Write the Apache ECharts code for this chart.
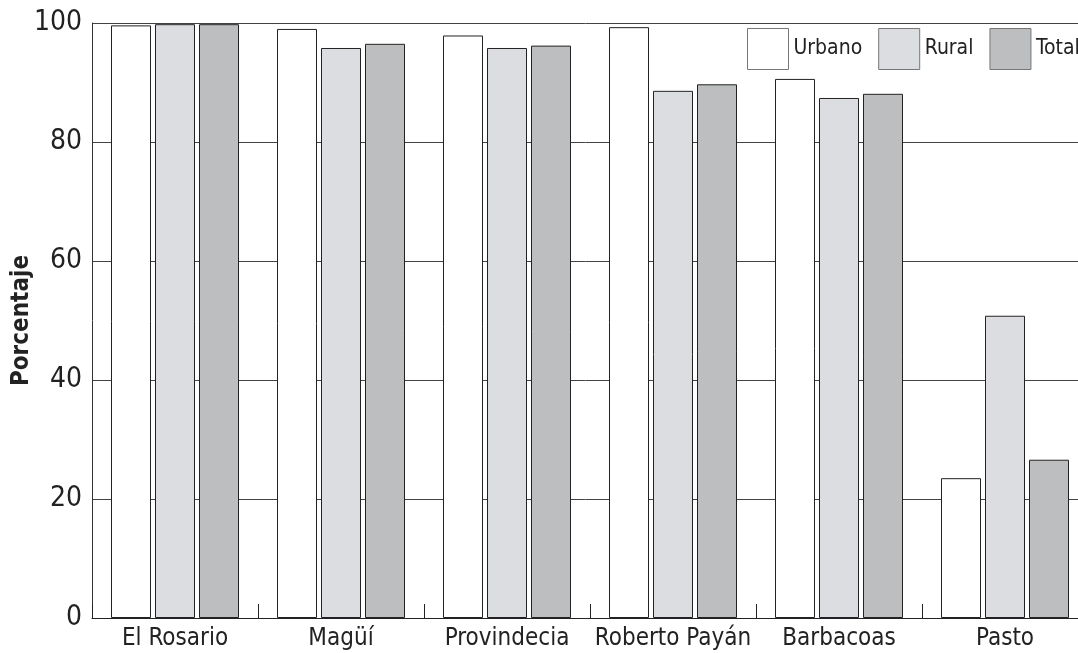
<!DOCTYPE html>
<html>
<head>
<meta charset="utf-8">
<script src="https://cdn.jsdelivr.net/npm/echarts@6/dist/echarts.min.js"></script>
<style>
  html, body { margin: 0; padding: 0; background: #fff; }
  #chart { width: 1078px; height: 653px; }
</style>
</head>
<body>
<div id="chart"></div>
<script>
const categories = ['El Rosario', 'Magüí', 'Provindecia', 'Roberto Payán', 'Barbacoas', 'Pasto']
const urbano = [99.6, 99.0, 97.9, 99.3, 90.6, 23.5]
const rural = [99.8, 95.8, 95.8, 88.6, 87.4, 50.8]
const total = [99.8, 96.5, 96.2, 89.7, 88.1, 26.6]
const yTicks = [0, 20, 40, 60, 80, 100]

const font = '"DejaVu Sans Condensed", "Liberation Sans", sans-serif'

const bar = (name, data, color) => ({
  name,
  type: 'bar',
  data,
  barWidth: 40,
  barGap: '10%',
  itemStyle: { color, borderColor: '#222', borderWidth: 1 }
})

const chart = echarts.init(document.getElementById('chart'))
chart.setOption({
  animation: false,
  backgroundColor: '#fff',
  grid: { left: 92, top: 23, bottom: 35, right: -10, containLabel: false, outerBoundsMode: 'none' },
  legend: {
    left: 747,
    top: 28,
    width: 420,
    padding: 0,
    itemWidth: 41,
    itemHeight: 41,
    itemGap: 16,
    icon: 'rect',
    itemStyle: { borderColor: '#777', borderWidth: 1 },
    textStyle: { fontFamily: font, fontSize: 21, color: '#222' },
    data: ['Urbano', 'Rural', 'Total']
  },
  xAxis: {
    type: 'category',
    data: categories,
    axisLine: { lineStyle: { color: '#222', width: 1 } },
    axisTick: { show: true, inside: true, length: 14, lineStyle: { color: '#222' } },
    axisLabel: { interval: 0, fontFamily: font, fontSize: 24, color: '#222', margin: 9 }
  },
  yAxis: {
    type: 'value',
    min: yTicks[0],
    max: yTicks[yTicks.length - 1],
    interval: 20,
    name: 'Porcentaje',
    nameLocation: 'middle',
    nameGap: 58,
    nameMoveOverlap: false,
    nameTextStyle: { fontFamily: font, fontSize: 24, fontWeight: 'bold', color: '#222' },
    axisLine: { show: true, lineStyle: { color: '#333' } },
    axisTick: { show: false },
    axisLabel: { fontFamily: font, fontSize: 28, color: '#222', margin: 10 },
    splitLine: { lineStyle: { color: '#444', width: 1 } }
  },
  series: [
    bar('Urbano', urbano, '#ffffff'),
    bar('Rural', rural, '#dcdde0'),
    bar('Total', total, '#bdbec0')
  ]
})
</script>
</body>
</html>
